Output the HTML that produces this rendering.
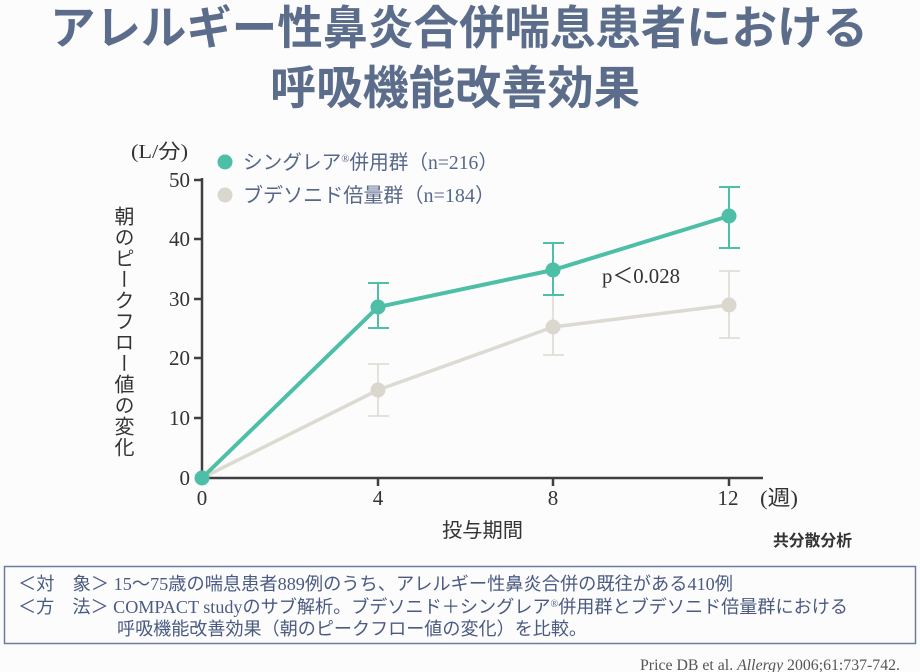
<!DOCTYPE html>
<html>
<head>
<meta charset="utf-8">
<style>
  html,body{margin:0;padding:0;background:#fcfcfc;}
  #wrap{position:relative;width:920px;height:672px;overflow:hidden;background:#fcfcfc;}
  svg{position:absolute;left:0;top:0;}
  .ylab{position:absolute;left:111px;top:206px;writing-mode:vertical-rl;font-family:"Liberation Sans","Noto Sans CJK JP",sans-serif;font-size:20px;line-height:22px;letter-spacing:1px;color:#333;}
</style>
</head>
<body>
<div id="wrap">
<svg width="920" height="672" viewBox="0 0 920 672" xmlns="http://www.w3.org/2000/svg">
  <!-- Title -->
  <g font-family="'Liberation Sans','Noto Sans CJK JP',sans-serif" font-weight="bold" fill="#5c6d8c" font-size="46">
    <text x="50" y="44" textLength="818" lengthAdjust="spacingAndGlyphs">アレルギー性鼻炎合併喘息患者における</text>
    <text x="270" y="104" textLength="370" lengthAdjust="spacingAndGlyphs">呼吸機能改善効果</text>
  </g>

  <!-- units -->
  <text x="131" y="158" font-family="'Liberation Serif','Noto Sans CJK JP',serif" font-size="20" fill="#333" textLength="57" lengthAdjust="spacingAndGlyphs">(L/分)</text>

  <!-- legend -->
  <circle cx="225" cy="162" r="7.5" fill="#4cbfa6"/>
  <circle cx="225" cy="195" r="7.5" fill="#d9d7ce"/>
  <g font-family="'Liberation Serif','Noto Sans CJK JP',serif" font-size="20" fill="#56678a">
    <text x="243" y="169" textLength="255" lengthAdjust="spacingAndGlyphs">シングレア<tspan font-size="11" dy="-7">®</tspan><tspan dy="7">併用群（n=216）</tspan></text>
    <text x="243" y="202" textLength="252" lengthAdjust="spacingAndGlyphs">ブデソニド倍量群（n=184）</text>
  </g>

  <!-- axes -->
  <g stroke="#3f3f3f" stroke-width="2.5" fill="none">
    <line x1="202" y1="178" x2="202" y2="479"/>
    <line x1="201" y1="478" x2="763" y2="478"/>
    <line x1="194" y1="180" x2="202" y2="180"/>
    <line x1="194" y1="239" x2="202" y2="239"/>
    <line x1="194" y1="299" x2="202" y2="299"/>
    <line x1="194" y1="358" x2="202" y2="358"/>
    <line x1="194" y1="418" x2="202" y2="418"/>
    <line x1="378" y1="478" x2="378" y2="486"/>
    <line x1="553" y1="478" x2="553" y2="486"/>
    <line x1="729" y1="478" x2="729" y2="486"/>
  </g>

  <!-- y tick labels -->
  <g font-family="'Liberation Serif',serif" font-size="21" fill="#333" text-anchor="end">
    <text x="190" y="187">50</text>
    <text x="190" y="246">40</text>
    <text x="190" y="306">30</text>
    <text x="190" y="365">20</text>
    <text x="190" y="425">10</text>
    <text x="190" y="485">0</text>
  </g>
  <!-- x tick labels -->
  <g font-family="'Liberation Serif',serif" font-size="21" fill="#333" text-anchor="middle">
    <text x="202" y="505">0</text>
    <text x="378" y="505">4</text>
    <text x="553" y="505">8</text>
    <text x="728" y="505">12</text>
  </g>
  <text x="760" y="505" font-family="'Liberation Serif','Noto Sans CJK JP',serif" font-size="21" fill="#333" textLength="38" lengthAdjust="spacingAndGlyphs">(週)</text>
  <text x="442" y="537" font-family="'Liberation Sans','Noto Sans CJK JP',sans-serif" font-size="20" fill="#333" textLength="81" lengthAdjust="spacingAndGlyphs">投与期間</text>
  <text x="773" y="546" font-family="'Liberation Sans','Noto Sans CJK JP',sans-serif" font-size="16" font-weight="bold" fill="#333" textLength="79" lengthAdjust="spacingAndGlyphs">共分散分析</text>

  <!-- gray series -->
  <g stroke="#dcdad1" fill="none">
    <polyline points="202,478 378,390 553,327 729,305" stroke-width="3.5"/>
    <g stroke-width="1.6">
      <line x1="378" y1="364" x2="378" y2="416"/><line x1="368" y1="364" x2="389" y2="364"/><line x1="368" y1="416" x2="389" y2="416"/>
      <line x1="553" y1="295" x2="553" y2="355"/><line x1="543" y1="355" x2="564" y2="355"/>
      <line x1="729" y1="271" x2="729" y2="338"/><line x1="719" y1="271" x2="740" y2="271"/><line x1="719" y1="338" x2="740" y2="338"/>
    </g>
  </g>
  <g fill="#d9d7ce">
    <circle cx="378" cy="390" r="7.5"/>
    <circle cx="553" cy="327" r="7.5"/>
    <circle cx="729" cy="305" r="7.5"/>
  </g>

  <!-- green series -->
  <g stroke="#4cbfa6" fill="none">
    <polyline points="202,478 378,307 553,270 729,216" stroke-width="4"/>
    <g stroke-width="2">
      <line x1="378" y1="283" x2="378" y2="328"/><line x1="368" y1="283" x2="389" y2="283"/><line x1="368" y1="328" x2="389" y2="328"/>
      <line x1="553" y1="243" x2="553" y2="295"/><line x1="543" y1="243" x2="564" y2="243"/><line x1="543" y1="295" x2="564" y2="295"/>
      <line x1="729" y1="187" x2="729" y2="248"/><line x1="719" y1="187" x2="740" y2="187"/><line x1="719" y1="248" x2="740" y2="248"/>
    </g>
  </g>
  <g fill="#4cbfa6">
    <circle cx="202" cy="478" r="7.5"/>
    <circle cx="378" cy="307" r="7.5"/>
    <circle cx="553" cy="270" r="7.5"/>
    <circle cx="729" cy="216" r="7.5"/>
  </g>

  <text x="602" y="283" font-family="'Liberation Serif','Noto Sans CJK JP',serif" font-size="21" fill="#333" textLength="78" lengthAdjust="spacingAndGlyphs">p＜0.028</text>

  <!-- box -->
  <rect x="4.5" y="566.5" width="911" height="77" fill="none" stroke="#6b7aa0" stroke-width="1.5"/>
  <g font-family="'Liberation Serif','Noto Sans CJK JP',serif" font-size="18" fill="#4a5a82">
    <text x="18" y="590" textLength="715" lengthAdjust="spacingAndGlyphs">＜対　象＞ 15〜75歳の喘息患者889例のうち、アレルギー性鼻炎合併の既往がある410例</text>
    <text x="18" y="613" textLength="830" lengthAdjust="spacingAndGlyphs">＜方　法＞ COMPACT studyのサブ解析。ブデソニド＋シングレア<tspan font-size="10" dy="-6">®</tspan><tspan dy="6">併用群とブデソニド倍量群における</tspan></text>
    <text x="117" y="635" textLength="470" lengthAdjust="spacingAndGlyphs">呼吸機能改善効果（朝のピークフロー値の変化）を比較。</text>
  </g>

  <text x="640" y="670" font-family="'Liberation Serif',serif" font-size="16" fill="#555" textLength="260" lengthAdjust="spacingAndGlyphs">Price DB et al. <tspan font-style="italic">Allergy</tspan> 2006;61:737-742.</text>
</svg>
<div class="ylab">朝のピークフロー値の変化</div>
</div>
</body>
</html>
